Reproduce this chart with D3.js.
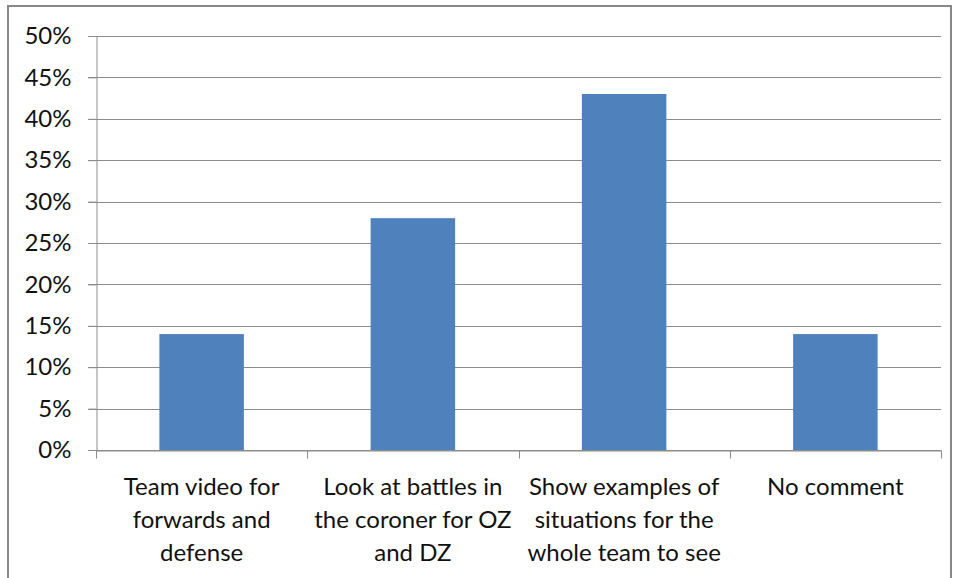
<!DOCTYPE html>
<html>
<head>
<meta charset="utf-8">
<script src="https://cdn.jsdelivr.net/npm/d3@7"></script>
<style>
  body { margin: 0; background: #fff; }
  svg { display: block; }
</style>
</head>
<body>
<div id="chart"></div>
<script>
// data
var categories = [
	'Team video for forwards and defense',
	'Look at battles in the coroner for OZ and DZ',
	'Show examples of situations for the whole team to see',
	'No comment'
];
var labelLines = [
	[ 'Team video for', 'forwards and', 'defense' ],
	[ 'Look at battles in', 'the coroner for OZ', 'and DZ' ],
	[ 'Show examples of', 'situations for the', 'whole team to see' ],
	[ 'No comment' ]
];
var values = [ 0.14, 0.28, 0.43, 0.14 ];
var yTicks = [ 0, 0.05, 0.10, 0.15, 0.20, 0.25, 0.30, 0.35, 0.40, 0.45, 0.50 ];

var W = 958, H = 578;
var plotLeft = 96, plotRight = 941, plotTop = 36, plotBottom = 450;
var font = "Lato, 'Liberation Sans', Arial, sans-serif";

var svg = d3.select( '#chart' ).append( 'svg' )
	.attr( 'width', W )
	.attr( 'height', H );

// outer frame
svg.append( 'rect' )
	.attr( 'x', 8 )
	.attr( 'y', 6 )
	.attr( 'width', 943 )
	.attr( 'height', 620 )
	.attr( 'fill', 'none' )
	.attr( 'stroke', '#878787' )
	.attr( 'stroke-width', 2 );

var xScale = d3.scaleBand()
	.domain( categories )
	.range( [ plotLeft, plotRight ] );

var barScale = d3.scaleBand()
	.domain( categories )
	.range( [ plotLeft, plotRight ] )
	.paddingInner( 0.6 )
	.paddingOuter( 0.3 );

var yScale = d3.scaleLinear()
	.domain( [ 0, 0.5 ] )
	.range( [ plotBottom, plotTop ] );

// gridlines
svg.append( 'g' )
	.selectAll( 'line' )
	.data( yTicks )
	.enter()
	.append( 'line' )
	.attr( 'x1', plotLeft - 8 )
	.attr( 'x2', plotRight )
	.attr( 'y1', function( d ) { return Math.round( yScale( d ) ) + 0.5; } )
	.attr( 'y2', function( d ) { return Math.round( yScale( d ) ) + 0.5; } )
	.attr( 'stroke', '#8c8c8c' )
	.attr( 'stroke-width', 1 );

// y axis
var yAxis = d3.axisLeft( yScale )
	.tickValues( yTicks )
	.tickFormat( d3.format( '.0%' ) )
	.tickSize( 8 )
	.tickPadding( 17 );

var yg = svg.append( 'g' )
	.attr( 'transform', 'translate(' + ( plotLeft + 0.5 ) + ',0)' )
	.call( yAxis );
yg.select( '.domain' ).attr( 'stroke', '#8c8c8c' );
yg.selectAll( '.tick line' ).attr( 'stroke', '#8c8c8c' );
yg.selectAll( '.tick text' )
	.attr( 'font-family', font )
	.attr( 'font-size', '24px' )
	.attr( 'fill', '#111' );

// bars
svg.selectAll( '.bars' )
	.data( values )
	.enter()
	.append( 'rect' )
	.attr( 'class', 'bars' )
	.attr( 'x', function( d, i ) { return barScale( categories[ i ] ); } )
	.attr( 'y', function( d ) { return yScale( d ); } )
	.attr( 'width', barScale.bandwidth() )
	.attr( 'height', function( d ) { return yScale( 0 ) - yScale( d ); } )
	.attr( 'fill', '#4f81bd' );

// x axis
var xAxis = d3.axisBottom( xScale )
	.tickSize( 0 )
	.tickFormat( '' );

var xg = svg.append( 'g' )
	.attr( 'transform', 'translate(0,' + ( plotBottom + 0.5 ) + ')' )
	.call( xAxis );
xg.select( '.domain' ).attr( 'stroke', '#8c8c8c' );

// category boundary ticks
var bounds = categories.map( function( c ) { return xScale( c ); } ).concat( [ plotRight ] );
xg.selectAll( '.bound' )
	.data( bounds )
	.enter()
	.append( 'line' )
	.attr( 'class', 'bound' )
	.attr( 'x1', function( d ) { return Math.round( d ) + 0.5; } )
	.attr( 'x2', function( d ) { return Math.round( d ) + 0.5; } )
	.attr( 'y1', 0 )
	.attr( 'y2', 8 )
	.attr( 'stroke', '#8c8c8c' );

// category labels
xg.selectAll( '.tick' ).each( function( c, i ) {
	var t = d3.select( this ).append( 'text' )
		.attr( 'text-anchor', 'middle' )
		.attr( 'font-family', font )
		.attr( 'font-size', '24px' )
		.attr( 'fill', '#111' );
	labelLines[ i ].forEach( function( line, j ) {
		t.append( 'tspan' )
			.attr( 'x', 0 )
			.attr( 'y', 44 + j * 33 )
			.text( line );
	} );
} );
</script>
</body>
</html>
